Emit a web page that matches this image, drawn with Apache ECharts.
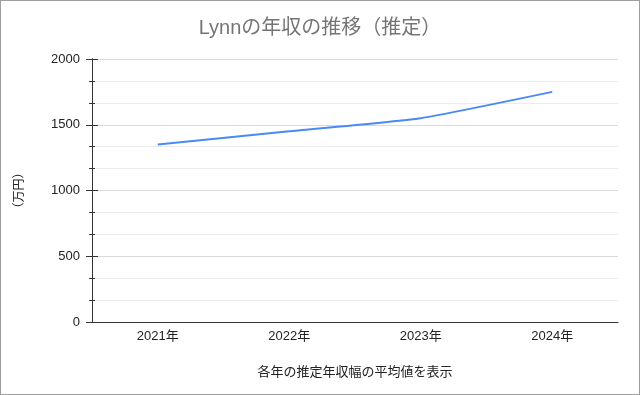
<!DOCTYPE html>
<html>
<head>
<meta charset="utf-8">
<script src="https://cdn.jsdelivr.net/npm/echarts@6/dist/echarts.min.js"></script>
<style>
  html, body { margin: 0; padding: 0; background: #fff; }
  #chart { width: 640px; height: 395px; box-sizing: border-box; border: 1px solid #9e9e9e; }
</style>
</head>
<body>
<div id="chart"></div>
<script>
// 年ごとの推定年収（万円）
const years = ['2021年', '2022年', '2023年', '2024年']
const income = [1350, 1450, 1550, 1750]
const yTicks = [0, 500, 1000, 1500, 2000]

const fontFamily = '"Liberation Sans", Arial, "Noto Sans CJK JP", sans-serif'
const chart = echarts.init(document.getElementById('chart'))

const baseY = {
  type: 'value',
  min: yTicks[0],
  max: yTicks[yTicks.length - 1],
  interval: 500,
  position: 'left',
  axisLine: { show: true, lineStyle: { color: '#333', width: 1 } },
  minorTick: { show: true, splitNumber: 3, length: 3, lineStyle: { color: '#333' } }
}

const option = {
  animation: false,
  textStyle: { fontFamily: fontFamily },
  title: {
    text: 'Lynnの年収の推移（推定）',
    left: 'center',
    top: 12,
    textStyle: { color: '#757575', fontSize: 20, fontWeight: 'normal', fontFamily: fontFamily }
  },
  grid: { left: 91, right: 21, top: 58, bottom: 72 },
  xAxis: {
    type: 'category',
    data: years,
    boundaryGap: true,
    name: '各年の推定年収幅の平均値を表示',
    nameLocation: 'middle',
    nameGap: 44,
    nameTextStyle: { color: '#222', fontSize: 13 },
    axisLine: { lineStyle: { color: '#333', width: 1 } },
    axisTick: { show: false },
    axisLabel: { color: '#222', fontSize: 13, margin: 8 }
  },
  yAxis: [
    Object.assign({}, baseY, {
      name: '（万円）',
      nameLocation: 'middle',
      nameGap: 66,
      nameRotate: 90,
      nameTextStyle: { color: '#222', fontSize: 12 },
      axisTick: { show: true, length: 6, lineStyle: { color: '#333' } },
      axisLabel: { color: '#222', fontSize: 13, margin: 12, formatter: function (v) { return String(v) } },
      splitLine: { show: true, lineStyle: { color: '#d9d9d9', width: 1 } },
      minorSplitLine: { show: true, lineStyle: { color: '#ececec', width: 1 } }
    }),
    Object.assign({}, baseY, {
      axisTick: { show: true, inside: true, length: 6, lineStyle: { color: '#333' } },
      minorTick: { show: true, splitNumber: 3, length: 3, lineStyle: { color: '#333' } },
      axisLabel: { show: false },
      splitLine: { show: false }
    })
  ],
  series: [{
    type: 'line',
    data: income,
    yAxisIndex: 0,
    showSymbol: false,
    smooth: 0.15,
    lineStyle: { color: '#4a8af4', width: 2 },
    itemStyle: { color: '#4a8af4' }
  }]
}

chart.setOption(option)
</script>
</body>
</html>
